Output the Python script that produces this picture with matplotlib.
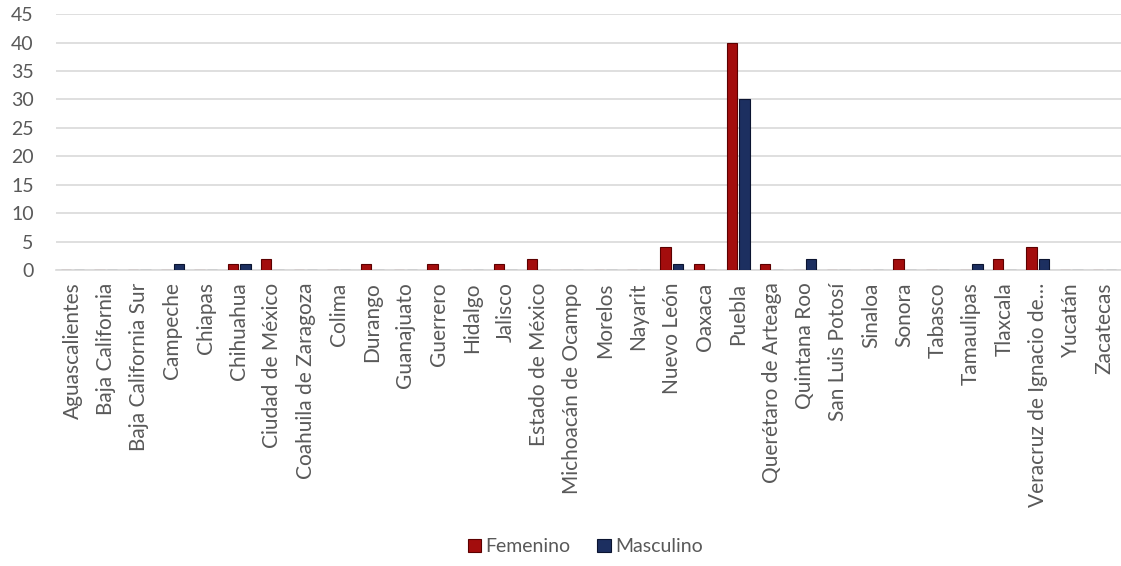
import matplotlib
matplotlib.use("Agg")
import matplotlib.pyplot as plt
import numpy as np

states = ["Aguascalientes", "Baja California", "Baja California Sur", "Campeche", "Chiapas",
          "Chihuahua", "Ciudad de México", "Coahuila de Zaragoza", "Colima", "Durango",
          "Guanajuato", "Guerrero", "Hidalgo", "Jalisco", "Estado de México",
          "Michoacán de Ocampo", "Morelos", "Nayarit", "Nuevo León", "Oaxaca",
          "Puebla", "Querétaro de Arteaga", "Quintana Roo", "San Luis Potosí", "Sinaloa",
          "Sonora", "Tabasco", "Tamaulipas", "Tlaxcala", "Veracruz de Ignacio de…",
          "Yucatán", "Zacatecas"]
femenino = [0, 0, 0, 0, 0, 1, 2, 0, 0, 1, 0, 1, 0, 1, 2, 0, 0, 0, 4, 1,
            40, 1, 0, 0, 0, 2, 0, 0, 2, 4, 0, 0]
masculino = [0, 0, 0, 1, 0, 1, 0, 0, 0, 0, 0, 0, 0, 0, 0, 0, 0, 0, 1, 0,
             30, 0, 2, 0, 0, 0, 0, 1, 0, 2, 0, 0]
yticks = list(range(0, 50, 5))

plt.rcParams['font.family'] = ['Lato', 'DejaVu Sans']
fig = plt.figure(figsize=(11.21, 5.66), dpi=100)
ax = fig.add_axes([56 / 1121, 0.523, 1065 / 1121, 0.452])

x = np.arange(len(states))
w = 0.31
off = 0.19
ax.bar(x - off, femenino, width=w, color="#A30D0D", edgecolor="#5C0000", linewidth=0.8,
       label="Femenino", zorder=3)
ax.bar(x + off, masculino, width=w, color="#1C2F60", edgecolor="#0B1430", linewidth=0.8,
       label="Masculino", zorder=3)

ax.set_xlim(-0.5, len(states) - 0.5)
ax.set_ylim(0, 45)
ax.set_yticks(yticks)
ax.yaxis.grid(True, color="#D9D9D9", linewidth=1.2, zorder=0)
ax.set_axisbelow(True)
for s in ["top", "right", "left"]:
    ax.spines[s].set_visible(False)
ax.spines["bottom"].set_color("#D9D9D9")
ax.spines["bottom"].set_linewidth(1.2)
ax.tick_params(axis="both", length=0, colors="#595959")
ax.tick_params(axis="y", pad=16, labelsize=14)
ax.tick_params(axis="x", pad=9, labelsize=15)
ax.set_xticks(x)
ax.set_xticklabels(states, rotation=90)

leg = fig.legend(loc="lower center", bbox_to_anchor=(0.522, -0.012), ncol=2, frameon=False,
                 fontsize=14, handlelength=0.7, handleheight=0.7, handletextpad=0.2,
                 columnspacing=1.4)
for t in leg.get_texts():
    t.set_color("#595959")

fig.savefig("out.png", dpi=100)
